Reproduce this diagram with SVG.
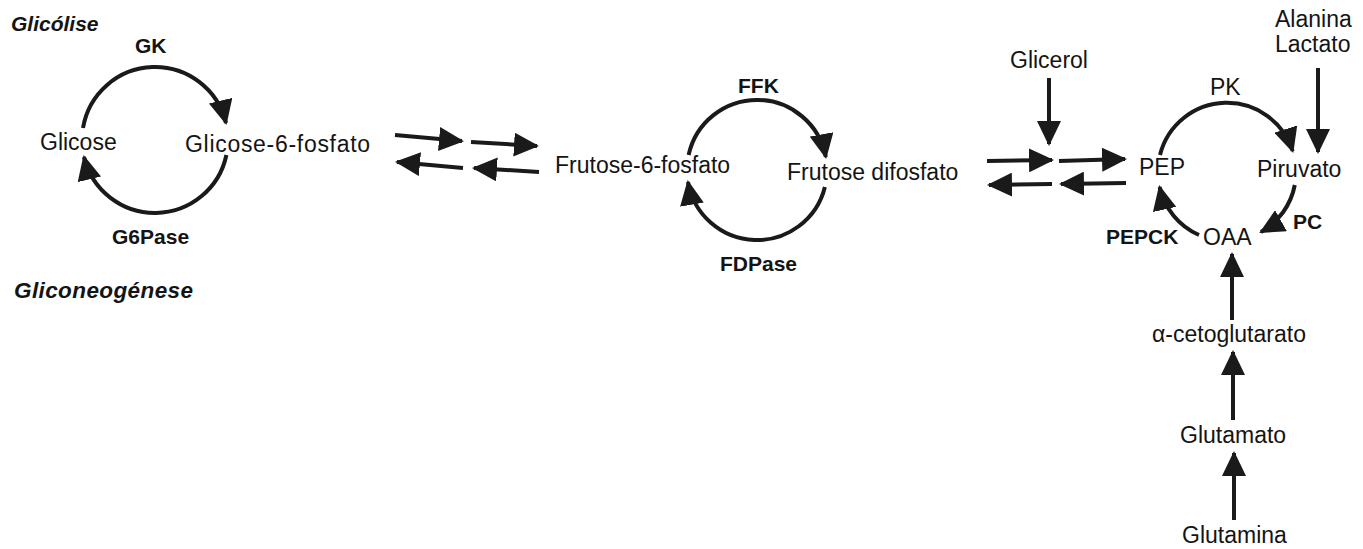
<svg xmlns="http://www.w3.org/2000/svg" width="1363" height="549" viewBox="0 0 1363 549">
  <defs>
    <marker id="head" markerUnits="userSpaceOnUse" markerWidth="26" markerHeight="24" refX="23" refY="12" orient="auto">
      <path d="M0,0 L25,12 L0,24 Z" fill="#1a1a1a"/>
    </marker>
    <style>
      text { font-family: "Liberation Sans", Arial, sans-serif; fill: #141414; }
      .met { font-size: 23px; }
      .enz { font-size: 21px; font-weight: bold; }
      .title { font-weight: bold; font-style: italic; }
      .flow { fill: none; stroke: #1a1a1a; stroke-width: 4; marker-end: url(#head); }
    </style>
  </defs>
  <rect width="1363" height="549" fill="#ffffff"/>

  <!-- pathway headings -->
  <g id="glicolise"><text class="title" x="11" y="31" font-size="21">Glicólise</text></g>
  <g id="gliconeogenese"><text class="title" x="14" y="298" font-size="22.5" letter-spacing="0.4">Gliconeogénese</text></g>

  <!-- metabolites -->
  <g id="glicose"><text class="met" x="40" y="150" font-size="24" fill="#333">Glicose</text></g>
  <g id="glicose6p"><text class="met" x="185" y="152" font-size="24" letter-spacing="0.7" fill="#222">Glicose-6-fosfato</text></g>
  <g id="frutose6p"><text class="met" x="555" y="173">Frutose-6-fosfato</text></g>
  <g id="frutosedp"><text class="met" x="787" y="180">Frutose difosfato</text></g>
  <g id="glicerol"><text class="met" x="1010" y="68">Glicerol</text></g>
  <g id="alanina-lactato">
    <text class="met" x="1275" y="27">Alanina</text>
    <text class="met" x="1275" y="52">Lactato</text>
  </g>
  <g id="pep"><text class="met" x="1139" y="175" font-size="21">PEP</text></g>
  <g id="piruvato"><text class="met" x="1257" y="177">Piruvato</text></g>
  <g id="oaa"><text class="met" x="1203" y="245">OAA</text></g>
  <g id="cetoglutarato"><text class="met" x="1152" y="342">α-cetoglutarato</text></g>
  <g id="glutamato"><text class="met" x="1180" y="443">Glutamato</text></g>
  <g id="glutamina"><text class="met" x="1182" y="543">Glutamina</text></g>

  <!-- enzymes -->
  <g id="gk"><text class="enz" x="135" y="53" font-size="22.5">GK</text></g>
  <g id="g6pase"><text class="enz" x="112" y="244" font-size="22.5">G6Pase</text></g>
  <g id="ffk"><text class="enz" x="738" y="93" font-size="20">FFK</text></g>
  <g id="fdpase"><text class="enz" x="720" y="271">FDPase</text></g>
  <g id="pk"><text class="met" x="1210" y="95">PK</text></g>
  <g id="pc"><text class="enz" x="1293" y="229">PC</text></g>
  <g id="pepck"><text class="enz" x="1106" y="244">PEPCK</text></g>

  <!-- connectors -->
  <g id="connectors">
    <!-- glicose / glicose-6-fosfato cycle: centre (155,140), r 73 -->
    <path class="flow" d="M83,128 A73,73 0 0 1 226,123"/>
    <path class="flow" d="M226.4,155 A73,73 0 0 1 84,157"/>
    <!-- frutose cycle: centre (757,170), r 70 -->
    <path class="flow" d="M688.6,155 A70,70 0 0 1 825.8,157"/>
    <path class="flow" d="M824.9,187 A70,70 0 0 1 688,182"/>
    <!-- PEP / piruvato / OAA cycle: centre (1227,172), r 69 -->
    <path class="flow" d="M1160,155 A69,69 0 0 1 1292.7,151"/>
    <path class="flow" d="M1294.8,185 A69,69 0 0 1 1261,232"/>
    <path class="flow" d="M1199,235 A69,69 0 0 1 1159.6,187"/>

    <!-- reversible steps between glicose-6-fosfato and frutose-6-fosfato -->
    <path class="flow" d="M395,135 L462,141"/>
    <path class="flow" d="M471,142 L537,146"/>
    <path class="flow" d="M463,168 L397,162"/>
    <path class="flow" d="M539,172 L474,168"/>

    <!-- reversible steps between frutose difosfato and PEP -->
    <path class="flow" d="M987,161 L1052,160"/>
    <path class="flow" d="M1059,161 L1125,159"/>
    <path class="flow" d="M1052,184 L989,185"/>
    <path class="flow" d="M1126,183 L1061,184"/>

    <!-- entry points -->
    <path class="flow" d="M1049,78 L1049,144"/>
    <path class="flow" d="M1318,68 L1318,152"/>
    <path class="flow" d="M1232,320 L1232,254"/>
    <path class="flow" d="M1233,420 L1233,352"/>
    <path class="flow" d="M1234,520 L1234,453"/>
  </g>
</svg>
